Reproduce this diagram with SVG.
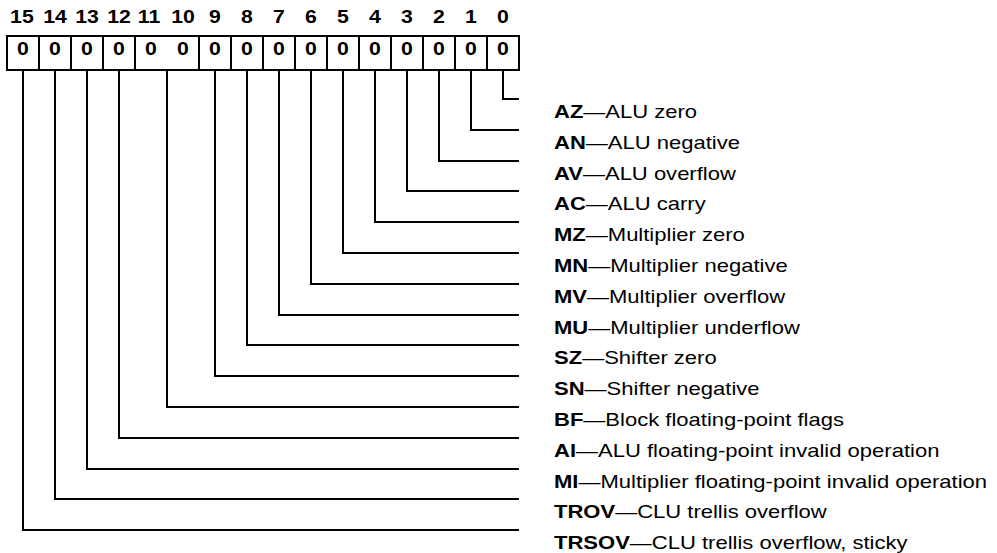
<svg xmlns="http://www.w3.org/2000/svg" width="997" height="553" viewBox="0 0 997 553">
  <style>
    .num { font-family: "Liberation Sans", Arial, sans-serif; font-weight: bold; font-size: 18.5px; text-anchor: middle; fill: #000; }
    .cell { fill: #fff; stroke: #000; stroke-width: 2; }
    .div { stroke: #000; stroke-width: 2; }
    .wire { fill: none; stroke: #000; stroke-width: 2; stroke-linejoin: miter; stroke-linecap: square; }
    .lbl { font-family: "Liberation Sans", Arial, sans-serif; font-size: 18.5px; fill: #000; }
    .lbl tspan.ab { font-weight: bold; }
  </style>

  <!-- register outline and field dividers (bits 11 and 10 share one field) -->
  <g id="register">
    <rect class="cell" x="7" y="36" width="512" height="34"/>
    <line class="div" x1="39" y1="36" x2="39" y2="70"/>
    <line class="div" x1="71" y1="36" x2="71" y2="70"/>
    <line class="div" x1="103" y1="36" x2="103" y2="70"/>
    <line class="div" x1="135" y1="36" x2="135" y2="70"/>
    <line class="div" x1="199" y1="36" x2="199" y2="70"/>
    <line class="div" x1="231" y1="36" x2="231" y2="70"/>
    <line class="div" x1="263" y1="36" x2="263" y2="70"/>
    <line class="div" x1="295" y1="36" x2="295" y2="70"/>
    <line class="div" x1="327" y1="36" x2="327" y2="70"/>
    <line class="div" x1="359" y1="36" x2="359" y2="70"/>
    <line class="div" x1="391" y1="36" x2="391" y2="70"/>
    <line class="div" x1="423" y1="36" x2="423" y2="70"/>
    <line class="div" x1="455" y1="36" x2="455" y2="70"/>
    <line class="div" x1="487" y1="36" x2="487" y2="70"/>
  </g>

  <!-- bit numbers and reset values; x = cell centre / 1.15 -->
  <g id="bit-numbers" transform="scale(1.15 1)">
    <text class="num" x="19.1" y="23">15</text>
    <text class="num" x="47.8" y="23">14</text>
    <text class="num" x="75.7" y="23">13</text>
    <text class="num" x="103.5" y="23">12</text>
    <text class="num" x="129.6" y="23">11</text>
    <text class="num" x="159.1" y="23">10</text>
    <text class="num" x="187.0" y="23">9</text>
    <text class="num" x="214.8" y="23">8</text>
    <text class="num" x="242.6" y="23">7</text>
    <text class="num" x="270.4" y="23">6</text>
    <text class="num" x="298.3" y="23">5</text>
    <text class="num" x="326.1" y="23">4</text>
    <text class="num" x="353.9" y="23">3</text>
    <text class="num" x="381.7" y="23">2</text>
    <text class="num" x="409.6" y="23">1</text>
    <text class="num" x="437.4" y="23">0</text>
  </g>
  <g id="reset-values" transform="scale(1.15 1)">
    <text class="num" x="20.0" y="55">0</text>
    <text class="num" x="47.8" y="55">0</text>
    <text class="num" x="75.7" y="55">0</text>
    <text class="num" x="103.5" y="55">0</text>
    <text class="num" x="131.3" y="55">0</text>
    <text class="num" x="159.1" y="55">0</text>
    <text class="num" x="187.0" y="55">0</text>
    <text class="num" x="214.8" y="55">0</text>
    <text class="num" x="242.6" y="55">0</text>
    <text class="num" x="270.4" y="55">0</text>
    <text class="num" x="298.3" y="55">0</text>
    <text class="num" x="326.1" y="55">0</text>
    <text class="num" x="353.9" y="55">0</text>
    <text class="num" x="381.7" y="55">0</text>
    <text class="num" x="409.6" y="55">0</text>
    <text class="num" x="437.4" y="55">0</text>
  </g>

  <!-- leader lines from each field to its description -->
  <g id="connectors">
    <path class="wire" d="M503 71 V99 H518"/>
    <path class="wire" d="M471 71 V130 H518"/>
    <path class="wire" d="M439 71 V161 H518"/>
    <path class="wire" d="M407 71 V191 H518"/>
    <path class="wire" d="M375 71 V222 H518"/>
    <path class="wire" d="M343 71 V253 H518"/>
    <path class="wire" d="M311 71 V284 H518"/>
    <path class="wire" d="M279 71 V315 H518"/>
    <path class="wire" d="M247 71 V345 H518"/>
    <path class="wire" d="M215 71 V376 H518"/>
    <path class="wire" d="M167 71 V407 H518"/>
    <path class="wire" d="M119 71 V438 H518"/>
    <path class="wire" d="M87 71 V469 H518"/>
    <path class="wire" d="M55 71 V499 H518"/>
    <path class="wire" d="M23 71 V530 H518"/>
  </g>

  <!-- flag descriptions -->
  <g id="labels" transform="translate(554 0) scale(1.19 1)">
    <g id="flag-az"><text class="lbl" x="0" y="118"><tspan class="ab">AZ</tspan>—ALU zero</text></g>
    <g id="flag-an"><text class="lbl" x="0" y="149"><tspan class="ab">AN</tspan>—ALU negative</text></g>
    <g id="flag-av"><text class="lbl" x="0" y="180"><tspan class="ab">AV</tspan>—ALU overflow</text></g>
    <g id="flag-ac"><text class="lbl" x="0" y="210"><tspan class="ab">AC</tspan>—ALU carry</text></g>
    <g id="flag-mz"><text class="lbl" x="0" y="241"><tspan class="ab">MZ</tspan>—Multiplier zero</text></g>
    <g id="flag-mn"><text class="lbl" x="0" y="272"><tspan class="ab">MN</tspan>—Multiplier negative</text></g>
    <g id="flag-mv"><text class="lbl" x="0" y="303"><tspan class="ab">MV</tspan>—Multiplier overflow</text></g>
    <g id="flag-mu"><text class="lbl" x="0" y="334"><tspan class="ab">MU</tspan>—Multiplier underflow</text></g>
    <g id="flag-sz"><text class="lbl" x="0" y="364"><tspan class="ab">SZ</tspan>—Shifter zero</text></g>
    <g id="flag-sn"><text class="lbl" x="0" y="395"><tspan class="ab">SN</tspan>—Shifter negative</text></g>
    <g id="flag-bf"><text class="lbl" x="0" y="426"><tspan class="ab">BF</tspan>—Block floating-point flags</text></g>
    <g id="flag-ai"><text class="lbl" x="0" y="457"><tspan class="ab">AI</tspan>—ALU floating-point invalid operation</text></g>
    <g id="flag-mi"><text class="lbl" x="0" y="488"><tspan class="ab">MI</tspan>—Multiplier floating-point invalid operation</text></g>
    <g id="flag-trov"><text class="lbl" x="0" y="518"><tspan class="ab">TROV</tspan>—CLU trellis overflow</text></g>
    <g id="flag-trsov"><text class="lbl" x="0" y="549"><tspan class="ab">TRSOV</tspan>—CLU trellis overflow, sticky</text></g>
  </g>
</svg>
